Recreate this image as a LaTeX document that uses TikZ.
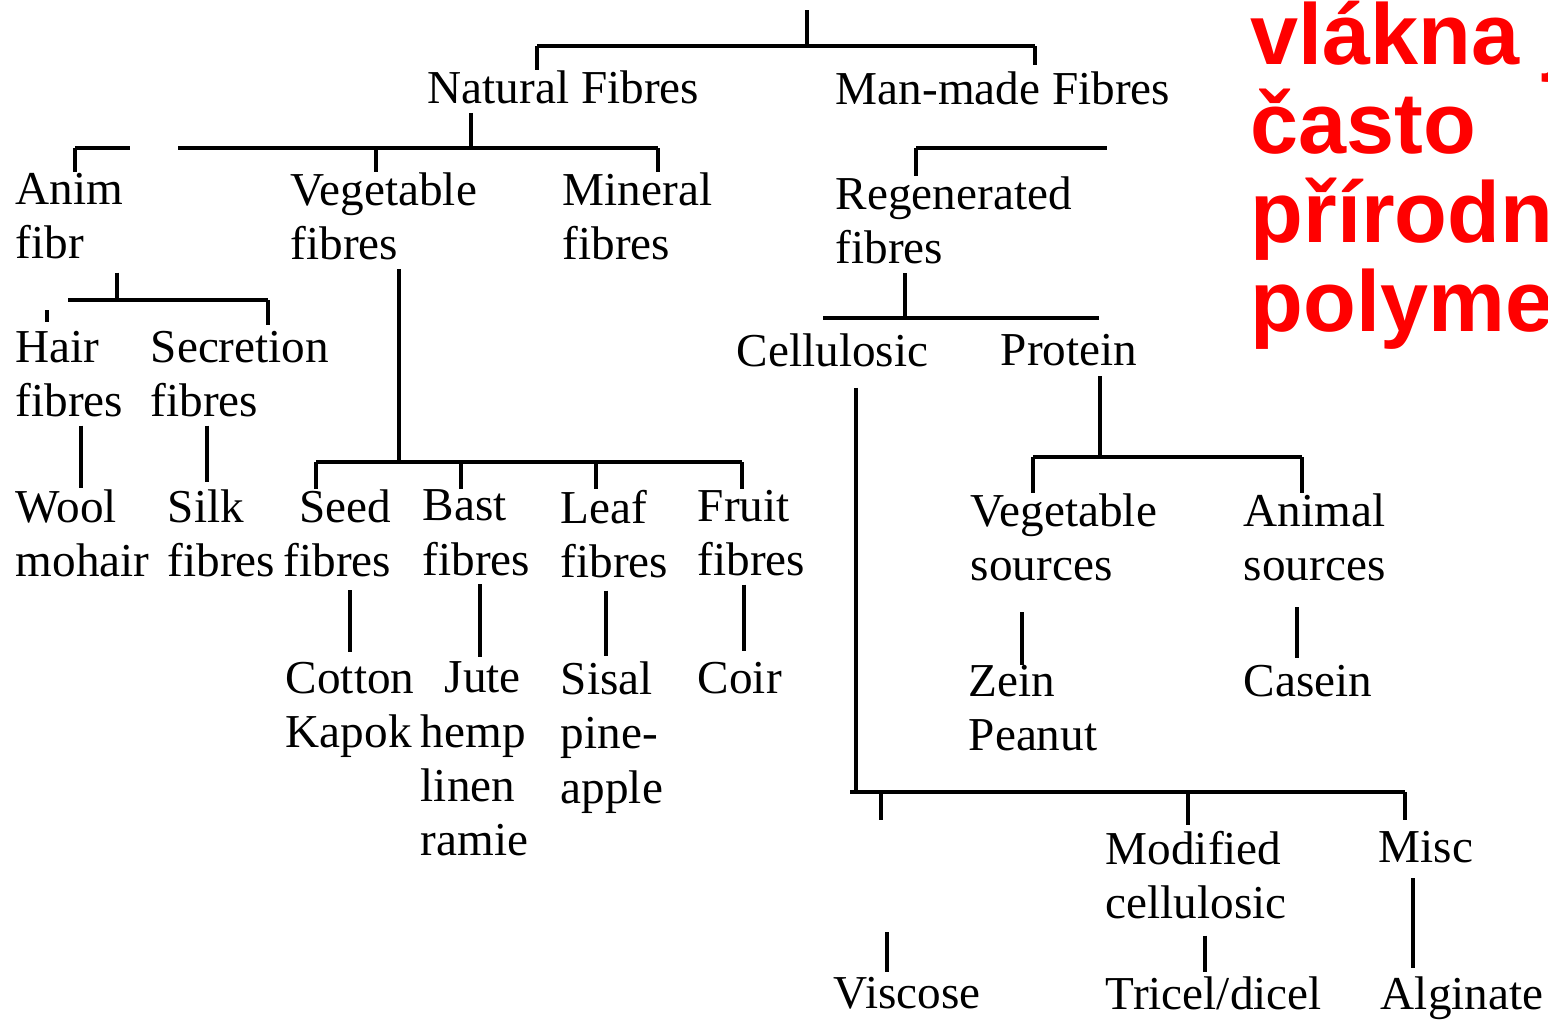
\documentclass[tikz,border=0pt]{standalone}
\usepackage{fontspec}
\setmainfont{Liberation Serif}
\newfontfamily\notefont{Liberation Sans}
\usepackage{tikz}

\begin{document}
\begin{tikzpicture}[
    x=0.25pt, y=-0.25pt,
    lbl/.style={anchor=north west, inner sep=0pt, align=left, font=\fontsize{11.8}{13.6}\selectfont},
    lblr/.style={lbl, anchor=north east, align=right},
    note/.style={anchor=north west, inner sep=0pt, align=left, text=red, font=\notefont\bfseries\fontsize{21.6}{22.25}\selectfont},
    link/.style={line width=0.9pt},
    stem/.style={link, shorten <=2pt}
]
    \useasboundingbox (0,0) rectangle (1548,1019);
    \clip (0,0) rectangle (1548,1019);

    % Top level
    \node[lbl] (nat) at (427, 70) {Natural Fibres};
    \node[lbl] (man) at (835, 71) {Man-made Fibres};

    % Natural fibres
    \node[lbl] (anim) at (15, 172) {Anim\\fibr};
    \node[lbl] (veg) at (290, 172) {Vegetable\\fibres};
    \node[lbl] (mine) at (562, 172) {Mineral\\fibres};
    \node[lbl] (hair) at (15, 330) {Hair\\fibres};
    \node[lbl] (secr) at (150, 330) {Secretion\\fibres};
    \node[lbl] (wool) at (15, 489) {Wool\\mohair};
    \node[lbl] (silk) at (167, 489) {Silk\\fibres};
    \node[lblr] (seed) at (392, 489) {Seed\\fibres};
    \node[lbl] (bast) at (422, 489) {Bast\\fibres};
    \node[lbl] (leaf) at (560, 489) {Leaf\\fibres};
    \node[lbl] (fruit) at (697, 489) {Fruit\\fibres};
    \node[lbl] (cotton) at (285, 661) {Cotton\\Kapok};
    \node[lbl] (jute) at (420, 661) {\hspace{6pt}Jute\\hemp\\linen\\ramie};
    \node[lbl] (sisal) at (560, 661) {Sisal\\pine-\\apple};
    \node[lbl] (coir) at (697, 661) {Coir};

    % Man-made fibres
    \node[lbl] (regen) at (835, 176) {Regenerated\\fibres};
    \node[lbl] (cell) at (736, 333) {Cellulosic};
    \node[lbl] (prot) at (1000, 333) {Protein};
    \node[lbl] (vsrc) at (970, 493) {Vegetable\\sources};
    \node[lbl] (asrc) at (1243, 493) {Animal\\sources};
    \node[lbl] (zein) at (968, 664) {Zein\\Peanut};
    \node[lbl] (casein) at (1243, 664) {Casein};
    \node[lbl] (modif) at (1105, 830) {Modified\\cellulosic};
    \node[lbl] (misc) at (1378, 830) {Misc};
    \node[lbl] (visc) at (833, 976) {Viscose};
    \node[lbl] (tric) at (1105, 976) {Tricel/dicel};
    \node[lbl] (algi) at (1380, 976) {Alginate};

    % Red note
    \node[note] (poznamka) at (1250, 0) {vlákna jsou\\často\\přírodní\\polymery};

    % Junctions
    \coordinate (top) at (807, 10);
    \coordinate (jtop) at (807, 46);
    \coordinate (jnat) at (537, 46);
    \coordinate (jman) at (1035, 46);
    \coordinate (jnatsub) at (471, 148);
    \coordinate (janim) at (75, 148);
    \coordinate (gapL) at (130, 148);
    \coordinate (gapR) at (178, 148);
    \coordinate (jveg) at (376, 148);
    \coordinate (jmine) at (658, 148);
    \coordinate (janimsub) at (117, 300);
    \coordinate (jhairL) at (68, 300);
    \coordinate (jsecr) at (268, 300);
    \coordinate (khair) at (47, 310);
    \coordinate (kwool) at (81, 488);
    \coordinate (ksilk) at (207, 482);
    \coordinate (jvegsub) at (399, 462);
    \coordinate (jseed) at (316, 462);
    \coordinate (jbast) at (461, 462);
    \coordinate (jleaf) at (596, 462);
    \coordinate (jfruit) at (742, 462);
    \coordinate (kcotton) at (350, 652);
    \coordinate (kjute) at (480, 657);
    \coordinate (ksisal) at (606, 656);
    \coordinate (kcoir) at (744, 651);
    \coordinate (jregen) at (916, 148);
    \coordinate (cutR) at (1107, 148);
    \coordinate (jregsub) at (905, 318);
    \coordinate (barL) at (823, 318);
    \coordinate (barR) at (1099, 318);
    \coordinate (jprot) at (1100, 457);
    \coordinate (jvsrc) at (1033, 457);
    \coordinate (jasrc) at (1302, 457);
    \coordinate (kzein) at (1022, 665);
    \coordinate (kcasein) at (1297, 658);
    \coordinate (jcell) at (856, 792);
    \coordinate (barCL) at (850, 792);
    \coordinate (jvisc) at (881, 792);
    \coordinate (kvisctop) at (881, 820);
    \coordinate (jmod) at (1188, 792);
    \coordinate (jmisc) at (1405, 792);
    \coordinate (kvisc) at (887, 932);
    \coordinate (ktric) at (1205, 972);
    \coordinate (kalgi) at (1413, 968);

    % Top level connections
    \draw[link] (top) -- (jtop);
    \draw[link] (jnat) -- (jman);
    \draw[link] (jnat) -- (jnat |- nat.north);
    \draw[link, shorten >=1.5pt] (jman) -- (jman |- man.north);

    % Natural fibres connections
    \draw[stem] (nat.south -| jnatsub) -- (jnatsub);
    \draw[link] (janim) -- (gapL);
    \draw[link] (gapR) -- (jmine);
    \draw[link] (janim) -- (janim |- anim.north);
    \draw[link] (jveg) -- (jveg |- veg.north);
    \draw[link] (jmine) -- (jmine |- mine.north);
    \draw[stem, shorten <=3.25pt] (anim.south -| janimsub) -- (janimsub);
    \draw[link] (jhairL) -- (jsecr);
    \draw[link, shorten >=1.25pt] (jsecr) -- (jsecr |- secr.north);
    \draw[link, shorten >=2pt] (khair) -- (khair |- hair.north);
    \draw[stem] (hair.south -| kwool) -- (kwool);
    \draw[stem] (secr.south -| ksilk) -- (ksilk);
    \draw[stem] (veg.south -| jvegsub) -- (jvegsub);
    \draw[link] (jseed) -- (jfruit);
    \draw[link] (jseed) -- (jseed |- seed.north);
    \draw[link] (jbast) -- (jbast |- bast.north);
    \draw[link] (jleaf) -- (jleaf |- leaf.north);
    \draw[link] (jfruit) -- (jfruit |- fruit.north);
    \draw[stem, shorten <=3pt] (seed.south -| kcotton) -- (kcotton);
    \draw[stem] (bast.south -| kjute) -- (kjute);
    \draw[stem, shorten <=3pt] (leaf.south -| ksisal) -- (ksisal);
    \draw[stem] (fruit.south -| kcoir) -- (kcoir);

    % Man-made fibres connections
    \draw[link] (jregen) -- (cutR);
    \draw[link] (jregen) -- (jregen |- regen.north);
    \draw[stem] (regen.south -| jregsub) -- (jregsub);
    \draw[link] (barL) -- (barR);
    \draw[stem, shorten <=5pt] (cell.south -| jcell) -- (jcell);
    \draw[stem, shorten <=2.5pt] (prot.south -| jprot) -- (jprot);
    \draw[link] (jvsrc) -- (jasrc);
    \draw[link] (jvsrc) -- (jvsrc |- vsrc.north);
    \draw[link] (jasrc) -- (jasrc |- asrc.north);
    \draw[stem, shorten <=7.5pt] (vsrc.south -| kzein) -- (kzein);
    \draw[stem, shorten <=6.25pt] (asrc.south -| kcasein) -- (kcasein);
    \draw[link] (barCL) -- (jmisc);
    \draw[link] (jvisc) -- (kvisctop);
    \draw[link, shorten >=1.25pt] (jmod) -- (jmod |- modif.north);
    \draw[link, shorten >=2.5pt] (jmisc) -- (jmisc |- misc.north);
    \draw[link, shorten >=1pt] (kvisc) -- (kvisc |- visc.north);
    \draw[stem, shorten <=4pt] (modif.south -| ktric) -- (ktric);
    \draw[stem, shorten <=3.75pt] (misc.south -| kalgi) -- (kalgi);

\end{tikzpicture}
\end{document}
